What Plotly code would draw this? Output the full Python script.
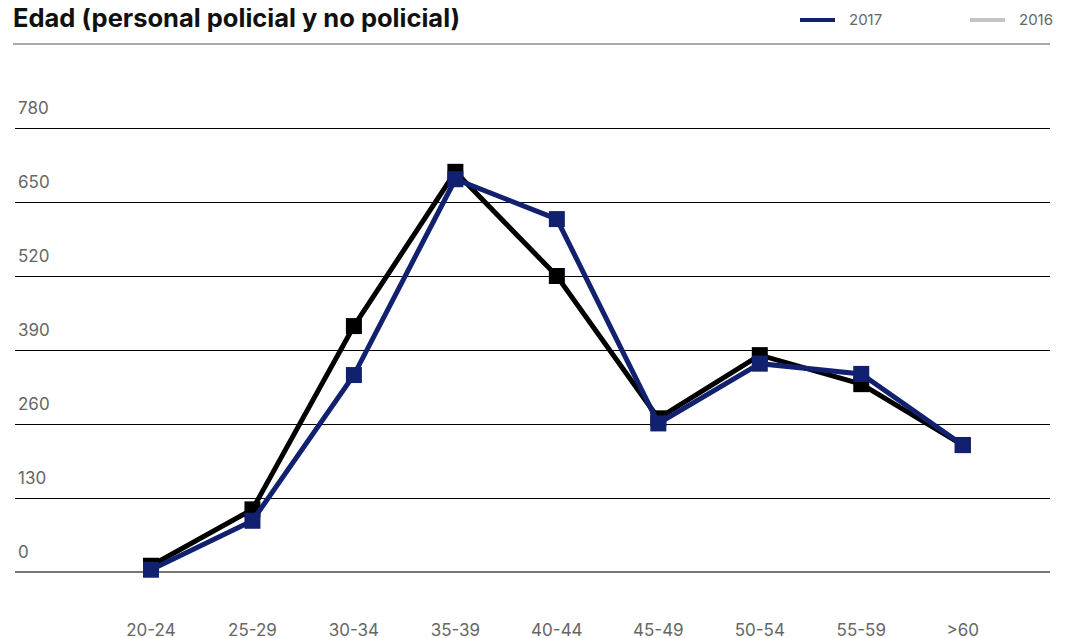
import plotly.graph_objects as go

categorias = ["20-24", "25-29", "30-34", "35-39", "40-44", "45-49", "50-54", "55-59", ">60"]
valores_2017 = [4, 90, 346, 690, 620, 261, 366, 348, 223]
valores_2016 = [11, 110, 432, 703, 520, 270, 381, 330, 223]
ticks_y = [0, 130, 260, 390, 520, 650, 780]
series_leyenda = ["2017", "2016"]
colores_leyenda = ["#12216f", "#c4c4c4"]

NAVY = "#12216f"
FONT = "Inter, Roboto, Arial, sans-serif"

W, H = 1063, 630
L, R, T, B = 7, 21, 60, 20
PW, PH = W - L - R, H - T - B


def px(fx):
    return (fx - L) / PW


def py(fy):
    return 1 + (T - fy) / PH


fig = go.Figure()

# serie 2016 (dibujada en negro, debajo)
fig.add_scatter(x=categorias, y=valores_2016, mode="lines+markers",
                line=dict(color="black", width=5),
                marker=dict(symbol="square", size=16, color="black"),
                hoverinfo="x+y", name="2016")
fig.add_scatter(x=categorias, y=valores_2017, mode="lines+markers",
                line=dict(color=NAVY, width=5),
                marker=dict(symbol="square", size=16, color=NAVY),
                hoverinfo="x+y", name="2017")

# leyenda dibujada a mano arriba a la derecha
shapes = [dict(type="line", xref="paper", yref="paper", x0=px(5), x1=1.0,
               y0=py(36), y1=py(36), line=dict(color="#555555", width=1.2))]
annotations = []
for i, (nombre, color) in enumerate(zip(series_leyenda, colores_leyenda)):
    x0 = 792 + 170 * i
    shapes.append(dict(type="line", xref="paper", yref="paper",
                       x0=px(x0), x1=px(x0 + 35), y0=py(12), y1=py(12),
                       line=dict(color=color, width=4)))
    annotations.append(dict(text=nombre, xref="paper", yref="paper",
                            x=px(x0 + 47), y=py(12), xanchor="left",
                            yanchor="middle", showarrow=False,
                            font=dict(size=15, color="#666666")))

fig.update_layout(
    width=W, height=H,
    margin=dict(l=L, r=R, t=T, b=B),
    plot_bgcolor="white", paper_bgcolor="white",
    font=dict(family=FONT, color="#666666", size=16),
    title=dict(text="<b>Edad (personal policial y no policial)</b>",
               xref="container", yref="container",
               x=5 / W, xanchor="left", y=1 - 10 / H, yanchor="middle",
               font=dict(family=FONT, size=25.5, color="#111111")),
    shapes=shapes,
    annotations=annotations,
    showlegend=False,
)

fig.update_xaxes(type="category", range=[-1.34, 8.86], showgrid=False,
                 showline=False, zeroline=False, ticks="", automargin=False,
                 tickfont=dict(size=17, color="#666666"))
fig.update_yaxes(range=[-80.8, 885.4], tickvals=ticks_y, automargin=False,
                 showgrid=True, gridcolor="black", gridwidth=1,
                 zeroline=True, zerolinecolor="#777777", zerolinewidth=2,
                 ticklabelposition="inside top", ticks="",
                 ticklabelshift=-8,
                 tickfont=dict(size=17, color="#666666"))

fig.write_html("out.html")
